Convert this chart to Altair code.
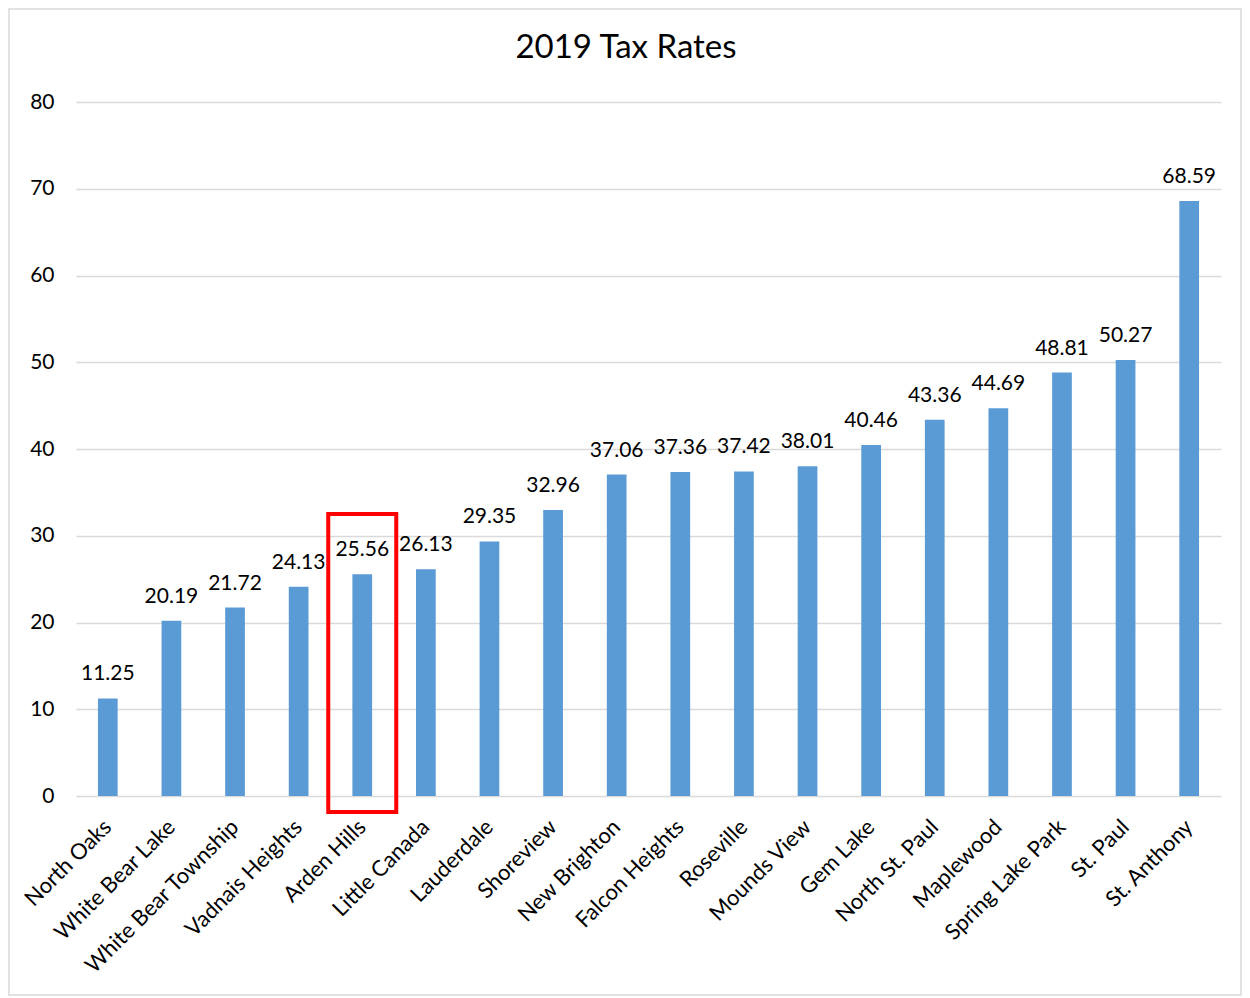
import altair as alt
import pandas as pd

cities = ["North Oaks", "White Bear Lake", "White Bear Township", "Vadnais Heights",
          "Arden Hills", "Little Canada", "Lauderdale", "Shoreview", "New Brighton",
          "Falcon Heights", "Roseville", "Mounds View", "Gem Lake", "North St. Paul",
          "Maplewood", "Spring Lake Park", "St. Paul", "St. Anthony"]
rates = [11.25, 20.19, 21.72, 24.13, 25.56, 26.13, 29.35, 32.96, 37.06,
         37.36, 37.42, 38.01, 40.46, 43.36, 44.69, 48.81, 50.27, 68.59]
labels = ["11.25", "20.19", "21.72", "24.13", "25.56", "26.13", "29.35", "32.96", "37.06",
          "37.36", "37.42", "38.01", "40.46", "43.36", "44.69", "48.81", "50.27", "68.59"]
y_ticks = [0, 10, 20, 30, 40, 50, 60, 70, 80]
title_text = ["2019 Tax Rates"]

highlight_city = ["Arden Hills"]
highlight_top = [32.5]
highlight_bottom = [-1.85]

FONT = "Lato"
df = pd.DataFrame({"city": cities, "rate": rates, "label": labels})
hl = pd.DataFrame({"city": highlight_city, "top": highlight_top, "bottom": highlight_bottom})

x = alt.X("city:N", sort=cities, title=None,
          scale=alt.Scale(paddingInner=0.69, paddingOuter=0.345),
          axis=alt.Axis(labelAngle=-45, labelFontSize=22, labelFont=FONT, labelColor="#000000",
                        labelAlign="right", labelBaseline="middle",
                        ticks=False, domain=False, labelPadding=27, labelLimit=400))
y = alt.Y("rate:Q", title=None,
          scale=alt.Scale(domain=[0, 80], nice=False, zero=True),
          axis=alt.Axis(values=y_ticks, labelFontSize=21, labelFont=FONT, labelColor="#000000",
                        ticks=False, domain=False, labelPadding=22,
                        gridColor="#d9d9d9", gridWidth=1.5))

bars = alt.Chart(df).mark_bar(color="#5B9BD5").encode(x=x, y=y)
text = alt.Chart(df).mark_text(baseline="bottom", dy=-14, fontSize=21, font=FONT,
                               color="#000000").encode(x=alt.X("city:N", sort=cities),
                                                       y="rate:Q", text="label:N")
box = alt.Chart(hl).mark_bar(width=68, fill=None, fillOpacity=0, stroke="#ff0000",
                             strokeWidth=4).encode(
    x=alt.X("city:N", sort=cities), y="top:Q", y2="bottom:Q")
border = alt.Chart(pd.DataFrame({"a": [0]})).mark_rect(
    fill=None, fillOpacity=0, stroke="#d9d9d9", strokeWidth=1.5).encode(
    x=alt.value(-67), x2=alt.value(1165), y=alt.value(-93), y2=alt.value(893))
title = alt.Chart(pd.DataFrame({"t": title_text})).mark_text(
    fontSize=33, font=FONT, color="#000000", baseline="alphabetic", align="center").encode(
    x=alt.value(550), y=alt.value(-44), text="t:N")

chart = alt.layer(border, title, bars, text, box).properties(
    width=1145, height=694,
    autosize=alt.AutoSizeParams(type="none"),
    padding={"left": 68, "top": 94, "right": 21, "bottom": 200},
    background="white",
).configure_view(stroke=None)

chart.save("out.html", embed_options={"renderer": "svg", "actions": False})
